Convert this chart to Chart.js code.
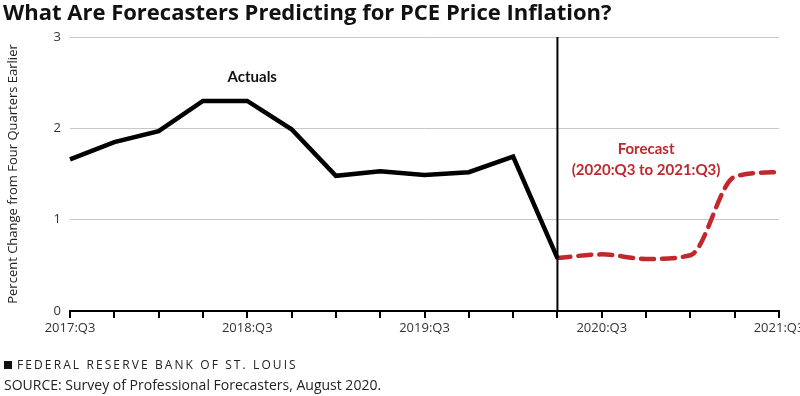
<!DOCTYPE html>
<html>
<head>
<meta charset="utf-8">
<script src="https://cdn.jsdelivr.net/npm/chart.js@4.4.1/dist/chart.umd.min.js"></script>
<style>
  body { margin: 0; background: #fff; }
  #wrap { position: relative; width: 800px; height: 396px; overflow: hidden; }
  #title { position: absolute; left: 3px; top: -4px; font: bold 22px "Open Sans", sans-serif; color: #111; white-space: nowrap; }
  #brand { position: absolute; left: 4px; top: 356px; font: 12px "Open Sans", sans-serif; letter-spacing: 2.1px; color: #222; white-space: nowrap; }
  #brand .sq { display: inline-block; width: 8px; height: 8px; background: #111; margin-right: 5px; vertical-align: 0px; }
  #source { position: absolute; left: 4px; top: 375px; font: 14px "Open Sans", sans-serif; color: #222; white-space: nowrap; }
  canvas { position: absolute; left: 0; top: 0; }
</style>
</head>
<body>
<div id="wrap">
  <canvas id="chart" width="800" height="396"></canvas>
  <div id="title">What Are Forecasters Predicting for PCE Price Inflation?</div>
  <div id="brand"><span class="sq"></span>FEDERAL RESERVE BANK OF ST. LOUIS</div>
  <div id="source">SOURCE: Survey of Professional Forecasters, August 2020.</div>
</div>
<script>
/* quarters on the x axis */
const quarters = ['2017:Q3', '2017:Q4', '2018:Q1', '2018:Q2', '2018:Q3', '2018:Q4',
  '2019:Q1', '2019:Q2', '2019:Q3', '2019:Q4', '2020:Q1', '2020:Q2',
  '2020:Q3', '2020:Q4', '2021:Q1', '2021:Q2', '2021:Q3'];
const shownLabels = ['2017:Q3', '2018:Q3', '2019:Q3', '2020:Q3', '2021:Q3'];

/* actual PCE inflation, percent change from four quarters earlier */
const actuals = [1.66, 1.85, 1.97, 2.30, 2.30, 1.99, 1.48, 1.53, 1.49, 1.52, 1.69, 0.58,
  null, null, null, null, null];
/* SPF forecast, starting from the last actual */
const forecast = [null, null, null, null, null, null, null, null, null, null, null, 0.58,
  0.62, 0.57, 0.61, 1.47, 1.52];

const yTicks = [0, 1, 2, 3];
const splitQuarter = '2020:Q2';

/* vertical divider plus the two text notes */
const notes = {
  id: 'notes',
  afterDatasetsDraw(chart) {
    const { ctx, chartArea, scales } = chart;
    const x = scales.x.getPixelForValue(quarters.indexOf(splitQuarter));
    ctx.save();
    ctx.strokeStyle = '#000';
    ctx.lineWidth = 2;
    ctx.beginPath();
    ctx.moveTo(x, chartArea.top);
    ctx.lineTo(x, chartArea.bottom);
    ctx.stroke();

    ctx.textAlign = 'center';
    ctx.textBaseline = 'middle';
    ctx.font = 'bold 15px Lato, sans-serif';
    ctx.fillStyle = '#111';
    ctx.fillText('Actuals', scales.x.getPixelForValue(4) + 5, scales.y.getPixelForValue(2.56));
    ctx.fillStyle = '#c1272d';
    const fx = scales.x.getPixelForValue(13);
    ctx.fillText('Forecast', fx, scales.y.getPixelForValue(1.77));
    ctx.fillText('(2020:Q3 to 2021:Q3)', fx, scales.y.getPixelForValue(1.54));
    ctx.restore();
  }
};

new Chart(document.getElementById('chart'), {
  type: 'line',
  data: {
    labels: quarters,
    datasets: [{
      label: 'Actuals',
      data: actuals,
      borderColor: '#000',
      borderWidth: 4.5,
      pointRadius: 0,
      tension: 0,
      borderJoinStyle: 'miter',
      spanGaps: false
    }, {
      label: 'Forecast',
      data: forecast,
      borderColor: '#c1272d',
      borderWidth: 4.5,
      borderDash: [13, 8],
      borderCapStyle: 'round',
      pointRadius: 0,
      cubicInterpolationMode: 'monotone'
    }]
  },
  plugins: [notes],
  options: {
    responsive: false,
    animation: false,
    layout: { padding: { top: 37, right: 21, left: 0, bottom: 0 } },
    plugins: { legend: { display: false }, tooltip: { enabled: false } },
    scales: {
      x: {
        offset: false,
        afterFit(scale) { scale.height = 85; scale.paddingLeft = 0; scale.paddingRight = 0; },
        border: { display: true, color: '#000', width: 2 },
        grid: { display: true, drawOnChartArea: false, drawTicks: true, tickLength: 7, color: '#000', lineWidth: 2 },
        ticks: {
          autoSkip: false,
          maxRotation: 0,
          padding: 2,
          color: '#333',
          font: { family: 'Open Sans', size: 13 },
          callback(v, i) { return shownLabels.includes(quarters[i]) ? quarters[i] : ''; }
        }
      },
      y: {
        min: 0,
        max: 3,
        afterFit(scale) { scale.width = 70; },
        afterBuildTicks(scale) { scale.ticks = yTicks.map(v => ({ value: v })); },
        border: { display: false },
        grid: { color: '#c8c8c8', lineWidth: 1, drawTicks: false },
        ticks: { padding: 9, color: '#333', font: { family: 'Open Sans', size: 13 } },
        title: {
          display: true,
          text: 'Percent Change from Four Quarters Earlier',
          color: '#222',
          font: { family: 'Open Sans', size: 13 },
          padding: { top: 5, bottom: 0 }
        }
      }
    }
  }
});
</script>
</body>
</html>
